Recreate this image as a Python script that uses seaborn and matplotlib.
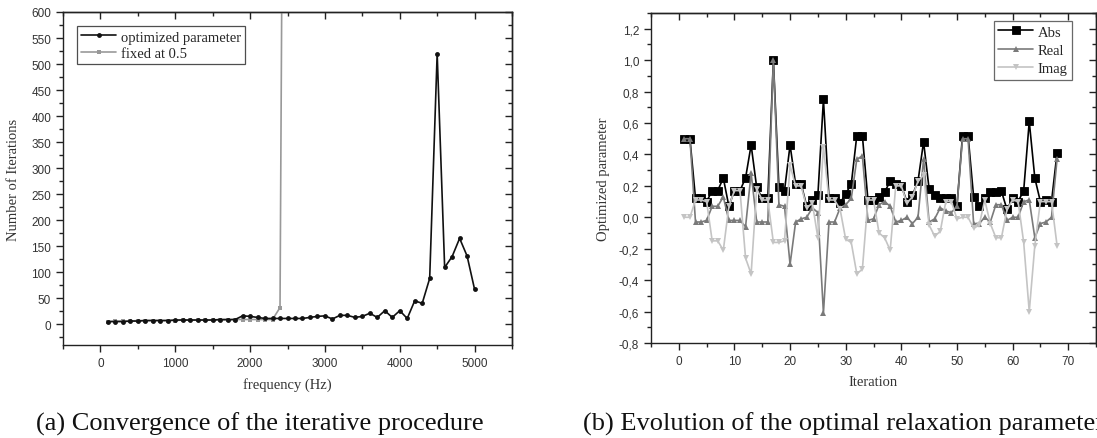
import numpy as np
import pandas as pd
import matplotlib
matplotlib.use("Agg")
import matplotlib.pyplot as plt
import seaborn as sns
from matplotlib.ticker import MultipleLocator, FuncFormatter

# ---------------- data: (a) convergence ----------------
freq_opt = list(range(100, 5001, 100))
iter_opt = [5, 5, 5, 6, 6, 7, 7, 7, 7, 8, 8, 8, 8, 8, 8, 9, 9, 9,
            16, 15, 13, 11, 11, 11, 11, 11, 11, 13, 15, 16, 10, 17, 17, 13,
            15, 21, 13, 26, 13, 26, 11, 45, 40, 88, 520, 109, 130, 165, 131, 67]
freq_fixed = list(range(100, 2501, 100))
iter_fixed = [5, 6, 6, 6, 7, 7, 7, 7, 7, 7, 8, 8, 8, 8, 8, 8, 8, 9, 9, 9,
              9, 9, 9, 32, 2600]

# ---------------- data: (b) relaxation parameter ----------------
iteration = list(range(1, 69))
abs_vals = [0.50, 0.50, 0.12, 0.12, 0.10, 0.17, 0.17, 0.25, 0.07, 0.17,
            0.17, 0.25, 0.46, 0.19, 0.12, 0.12, 1.00, 0.19, 0.17, 0.46,
            0.21, 0.21, 0.07, 0.11, 0.14, 0.75, 0.12, 0.12, 0.09, 0.15,
            0.21, 0.52, 0.52, 0.11, 0.11, 0.13, 0.16, 0.23, 0.21, 0.20,
            0.10, 0.14, 0.23, 0.48, 0.18, 0.14, 0.12, 0.12, 0.12, 0.07,
            0.52, 0.52, 0.13, 0.07, 0.12, 0.16, 0.16, 0.165, 0.05, 0.12,
            0.10, 0.17, 0.61, 0.25, 0.10, 0.11, 0.10, 0.41]
real_vals = [0.50, 0.50, -0.03, -0.03, -0.02, 0.07, 0.07, 0.13, -0.02, -0.02,
             -0.02, -0.06, 0.28, -0.03, -0.03, -0.03, 1.00, 0.08, 0.07, -0.30,
             -0.03, -0.01, 0.00, 0.06, 0.03, -0.61, -0.03, -0.03, 0.06, 0.08,
             0.12, 0.37, 0.39, -0.02, -0.01, 0.08, 0.10, 0.07, -0.03, -0.02,
             0.00, -0.04, 0.00, 0.37, -0.03, -0.01, 0.06, 0.04, 0.03, 0.07,
             0.50, 0.50, -0.04, -0.04, 0.00, -0.03, 0.08, 0.08, -0.02, 0.00,
             0.00, 0.10, 0.11, -0.13, -0.04, -0.03, 0.00, 0.37]
imag_vals = [0.00, 0.00, 0.11, 0.11, 0.10, -0.15, -0.15, -0.21, 0.07, 0.17,
             0.17, -0.26, -0.36, 0.18, 0.11, 0.11, -0.16, -0.16, -0.15, 0.33,
             0.20, 0.20, 0.06, 0.09, -0.13, 0.45, 0.11, 0.11, 0.05, -0.14,
             -0.16, -0.36, -0.33, 0.11, 0.11, -0.10, -0.13, -0.21, 0.20, 0.20,
             0.09, 0.13, 0.23, 0.27, -0.05, -0.12, -0.09, 0.10, 0.10, -0.01,
             0.00, 0.00, -0.07, -0.05, 0.11, -0.04, -0.13, -0.13, 0.05, 0.11,
             0.10, -0.16, -0.60, -0.18, 0.10, 0.10, 0.10, -0.18]

SERIF = "Liberation Serif"
SANS = "Liberation Sans"

sns.set_theme(style="ticks")
plt.rcParams["font.family"] = [SANS, "DejaVu Sans"]
plt.rcParams["axes.linewidth"] = 1.0
plt.rcParams["axes.edgecolor"] = "#222222"

fig = plt.figure(figsize=(10.97, 4.39), dpi=100)
W, H = 1097.0, 439.0
ax1 = fig.add_axes([63 / W, 1 - 346 / H, (512 - 63) / W, (346 - 13) / H])
ax2 = fig.add_axes([651 / W, 1 - 344 / H, (1096 - 651) / W, (344 - 14) / H])


def style_axes(ax, xmaj, xmin, ymaj, ymin):
    ax.xaxis.set_major_locator(MultipleLocator(xmaj))
    ax.xaxis.set_minor_locator(MultipleLocator(xmin))
    ax.yaxis.set_major_locator(MultipleLocator(ymaj))
    ax.yaxis.set_minor_locator(MultipleLocator(ymin))
    ax.tick_params(which="both", direction="out", colors="#222222",
                   labelcolor="#333333", labelsize=8.5, width=1.0)
    ax.tick_params(which="major", length=5)
    ax.tick_params(which="minor", length=3)
    for s in ax.spines.values():
        s.set_visible(True)
        s.set_color("#222222")
    sx = ax.secondary_xaxis("top")
    sx.xaxis.set_major_locator(MultipleLocator(xmaj))
    sx.xaxis.set_minor_locator(MultipleLocator(xmin))
    sx.tick_params(which="both", direction="in", labeltop=False,
                   colors="#222222", width=1.0)
    sx.tick_params(which="major", length=5)
    sx.tick_params(which="minor", length=3)
    sy = ax.secondary_yaxis("right")
    sy.yaxis.set_major_locator(MultipleLocator(ymaj))
    sy.yaxis.set_minor_locator(MultipleLocator(ymin))
    sy.tick_params(which="both", direction="in", labelright=False,
                   colors="#222222", width=1.0)
    sy.tick_params(which="major", length=5)
    sy.tick_params(which="minor", length=3)


# ---------------- (a) ----------------
df_opt = pd.DataFrame({"freq": freq_opt, "iters": iter_opt})
df_fix = pd.DataFrame({"freq": freq_fixed, "iters": iter_fixed})
sns.lineplot(data=df_fix, x="freq", y="iters", ax=ax1, color="#999999",
             marker="s", markersize=3, markeredgewidth=0, linewidth=1.2,
             label="fixed at 0.5", zorder=2)
sns.lineplot(data=df_opt, x="freq", y="iters", ax=ax1, color="#111111",
             marker="o", markersize=3.5, markeredgewidth=0, linewidth=1.2,
             label="optimized parameter", zorder=3)
ax1.set_xlim(-500, 5500)
ax1.set_ylim(-40, 600)
style_axes(ax1, 1000, 500, 50, 25)
ax1.set_xlabel("frequency (Hz)", family=SERIF, fontsize=10.5, color="#333333", labelpad=6)
ax1.set_ylabel("Number of Iterations", family=SERIF, fontsize=10.5, color="#333333", labelpad=8)
h, l = ax1.get_legend_handles_labels()
leg1 = ax1.legend([h[1], h[0]], [l[1], l[0]], loc="upper left",
                  bbox_to_anchor=(14 / 449, 1 - 14 / 333), borderaxespad=0,
                  frameon=True, fancybox=False, edgecolor="#222222",
                  prop={"family": SERIF, "size": 10.5}, handlelength=2.4,
                  handletextpad=0.3, labelspacing=0.22, borderpad=0.3)
leg1.get_frame().set_linewidth(0.9)

# ---------------- (b) ----------------
df_b = pd.DataFrame({"it": iteration, "Abs": abs_vals, "Real": real_vals, "Imag": imag_vals})
sns.lineplot(data=df_b, x="it", y="Abs", ax=ax2, color="#000000", marker="s",
             markersize=6, markeredgewidth=0.6, markeredgecolor="#000000",
             linewidth=1.2, label="Abs", zorder=2)
sns.lineplot(data=df_b, x="it", y="Real", ax=ax2, color="#7a7a7a", marker="^",
             markersize=4, markeredgewidth=0, linewidth=1.2, label="Real", zorder=3)
sns.lineplot(data=df_b, x="it", y="Imag", ax=ax2, color="#c4c4c4", marker="v",
             markersize=4, markeredgewidth=0, linewidth=1.2, label="Imag", zorder=4)
ax2.set_xlim(-5, 75)
ax2.set_ylim(-0.8, 1.3)
style_axes(ax2, 10, 5, 0.2, 0.1)
ax2.yaxis.set_major_formatter(FuncFormatter(lambda v, p: f"{v:.1f}".replace(".", ",").replace("-0,0", "0,0")))
ax2.set_xlabel("Iteration", family=SERIF, fontsize=10.5, color="#333333", labelpad=6)
ax2.set_ylabel("Optimized parameter", family=SERIF, fontsize=10.5, color="#333333", labelpad=6)
leg2 = ax2.legend(loc="upper right", bbox_to_anchor=(1 - 24 / 445, 1 - 8 / 330),
                  borderaxespad=0, frameon=True, fancybox=False, edgecolor="#444444",
                  prop={"family": SERIF, "size": 10.5}, handlelength=2.4,
                  handletextpad=0.3, labelspacing=0.35, borderpad=0.3)
leg2.get_frame().set_linewidth(0.9)

# ---------------- captions ----------------
fig.text(36 / W, 1 - 424 / H, "(a) Convergence of the iterative procedure",
         family=SERIF, fontsize=19, va="center", ha="left", color="#111111")
fig.text(583 / W, 1 - 424 / H, "(b) Evolution of the optimal relaxation parameter",
         family=SERIF, fontsize=19, va="center", ha="left", color="#111111")

fig.savefig("out.png", dpi=100)
